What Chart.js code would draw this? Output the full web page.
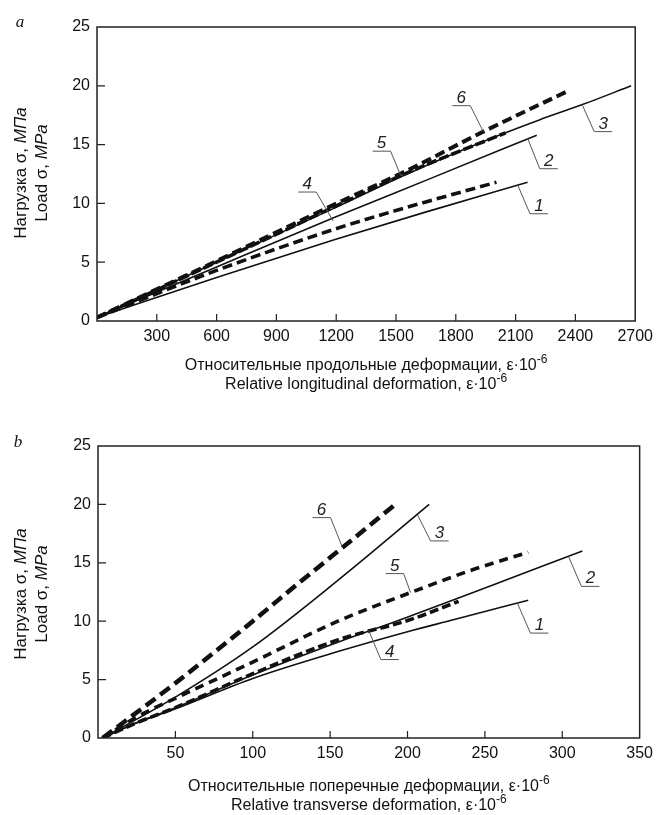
<!DOCTYPE html>
<html>
<head>
<meta charset="utf-8">
<script src="https://cdn.jsdelivr.net/npm/chart.js@4.4.1/dist/chart.umd.min.js"></script>
<style>
  html, body { margin: 0; padding: 0; background: #fff; }
  #wrap { position: relative; width: 659px; height: 815px; }
  canvas { position: absolute; left: 0; }
</style>
</head>
<body>
<div id="wrap">
  <canvas id="chartA" width="659" height="410" style="top:0"></canvas>
  <canvas id="chartB" width="659" height="405" style="top:410px"></canvas>
</div>
<script>
// --- a: longitudinal deformation ---
const aTicksX = [300, 600, 900, 1200, 1500, 1800, 2100, 2400, 2700];
const ticksY = [0, 5, 10, 15, 20, 25];

const aX1 = [0, 600, 1190, 1656, 2160];
const aY1 = [0.3, 3.7, 6.9, 9.3, 11.8];
const aX2 = [0, 600, 1190, 1656, 2206];
const aY2 = [0.3, 4.6, 8.8, 12.0, 15.8];
const aX3 = [0, 600, 1190, 1556, 1988, 2219, 2435, 2680];
const aY3 = [0.3, 5.0, 9.6, 12.5, 15.6, 17.1, 18.4, 20.0];
const aX4 = [0, 600, 1190, 1500, 2004];
const aY4 = [0.3, 4.3, 7.8, 9.4, 11.8];
const aX5 = [0, 600, 1190, 1556, 2050];
const aY5 = [0.3, 5.0, 9.7, 12.6, 16.0];
const aX6 = [0, 600, 1190, 1556, 1938, 2368];
const aY6 = [0.3, 5.1, 9.9, 12.8, 16.1, 19.6];

// --- b: transverse deformation ---
const bTicksX = [50, 100, 150, 200, 250, 300, 350];

const bX1 = [3, 25, 50, 100, 155, 200, 229, 278];
const bY1 = [0, 1.3, 2.5, 5.1, 7.4, 9.1, 10.1, 11.8];
const bX2 = [3, 25, 50, 100, 155, 195, 259, 313];
const bY2 = [0, 1.3, 2.6, 5.4, 8.2, 10.1, 13.3, 16.0];
const bX3 = [3, 50, 100, 155, 214];
const bY3 = [0, 3.5, 7.8, 13.5, 20.0];
const bX4 = [3, 25, 50, 100, 155, 201, 233];
const bY4 = [0, 1.3, 2.6, 5.5, 8.4, 10.1, 11.7];
const bX5 = [3, 25, 50, 100, 155, 201, 242, 278];
const bY5 = [0, 1.8, 3.4, 6.5, 10.0, 12.4, 14.4, 15.9];
const bX6 = [3, 50, 100, 130, 158, 193];
const bY6 = [0, 4.7, 10.0, 13.3, 16.3, 20.1];

// curve numbers with leader lines (anchor in data units, offset in px)
const aNotes = [
  { t: '6', x: 1938, y: 16.1, dx: -13, dy: -26, side: -1 },
  { t: '5', x: 1523, y: 12.4, dx: -10, dy: -24, side: -1 },
  { t: '3', x: 2434, y: 18.4, dx: 12, dy: 27, side: 1 },
  { t: '2', x: 2161, y: 15.5, dx: 12, dy: 30, side: 1 },
  { t: '1', x: 2112, y: 11.5, dx: 12, dy: 28, side: 1 },
  { t: '4', x: 1185, y: 8.5, dx: -17, dy: -29, side: -1 }
];
const bNotes = [
  { t: '6', x: 158, y: 16.3, dx: -12, dy: -30, side: -1 },
  { t: '3', x: 206.5, y: 19.1, dx: 13, dy: 26, side: 1 },
  { t: '5', x: 202, y: 12.45, dx: -7, dy: -19, side: -1 },
  { t: '2', x: 304, y: 15.55, dx: 13, dy: 30, side: 1 },
  { t: '1', x: 271, y: 11.55, dx: 13, dy: 30, side: 1 },
  { t: '4', x: 175, y: 9.2, dx: 12, dy: 29, side: 1 }
];

const SANS = '"Liberation Sans", Arial, sans-serif';

function pts(xs, ys) {
  return xs.map((x, i) => ({ x: x, y: ys[i] }));
}

function solid(xs, ys) {
  return { data: pts(xs, ys), borderColor: '#111', borderWidth: 1.6, borderDash: [] };
}
function dashed(xs, ys, w, dash) {
  return { data: pts(xs, ys), borderColor: '#111', borderWidth: w, borderDash: dash };
}

// draw a list of text runs on one line, centred at (x, y)
function drawRuns(ctx, runs, x, y) {
  let total = 0;
  runs.forEach(r => { ctx.font = r.font; r.w = ctx.measureText(r.t).width; total += r.w; });
  let cx = x - total / 2;
  ctx.textAlign = 'left';
  ctx.textBaseline = 'middle';
  runs.forEach(r => {
    ctx.font = r.font;
    ctx.fillText(r.t, cx, y - (r.sup ? 6 : 0));
    cx += r.w;
  });
}

const framePlugin = {
  id: 'frame',
  afterDraw(chart, args, opts) {
    const ctx = chart.ctx;
    const a = chart.chartArea;
    const xs = chart.scales.x, ys = chart.scales.y;
    ctx.save();
    ctx.strokeStyle = '#222';
    ctx.lineWidth = 1.5;
    ctx.strokeRect(a.left, a.top, a.right - a.left, a.bottom - a.top);
    ctx.lineWidth = 1.2;
    ctx.beginPath();
    opts.ticksX.forEach(v => {
      const px = xs.getPixelForValue(v);
      if (px > a.left + 2 && px < a.right - 2) { ctx.moveTo(px, a.bottom); ctx.lineTo(px, a.bottom - 7); }
    });
    opts.ticksY.forEach(v => {
      const py = ys.getPixelForValue(v);
      if (py > a.top + 2 && py < a.bottom - 2) { ctx.moveTo(a.left, py); ctx.lineTo(a.left + 8, py); }
    });
    ctx.stroke();
    ctx.restore();
  }
};

const notesPlugin = {
  id: 'notes',
  afterDraw(chart, args, opts) {
    const ctx = chart.ctx;
    const xs = chart.scales.x, ys = chart.scales.y;
    ctx.save();
    ctx.strokeStyle = '#555';
    ctx.fillStyle = '#222';
    ctx.lineWidth = 1;
    ctx.font = 'italic 17px ' + SANS;
    ctx.textAlign = 'center';
    ctx.textBaseline = 'alphabetic';
    opts.items.forEach(n => {
      const ax = xs.getPixelForValue(n.x), ay = ys.getPixelForValue(n.y);
      const sx = ax + n.dx, sy = ay + n.dy;
      const ex = sx + n.side * 18;
      ctx.beginPath();
      ctx.moveTo(ax, ay); ctx.lineTo(sx, sy); ctx.lineTo(ex, sy);
      ctx.stroke();
      ctx.fillText(n.t, (sx + ex) / 2, sy - 3);
    });
    ctx.restore();
  }
};

const titlesPlugin = {
  id: 'titles',
  afterDraw(chart, args, opts) {
    const ctx = chart.ctx;
    const mid = (chart.chartArea.left + chart.chartArea.right) / 2;
    ctx.save();
    ctx.fillStyle = '#111';
    // panel letter
    ctx.font = 'italic 17px "Liberation Serif", serif';
    ctx.textAlign = 'center';
    ctx.textBaseline = 'middle';
    ctx.fillText(opts.letter, opts.letterX, opts.letterY);
    // x axis titles
    const f = '16px ' + SANS, fs = '12px ' + SANS;
    drawRuns(ctx, [{ t: opts.xRu + ', ε·10', font: f }, { t: '-6', font: fs, sup: true }], mid, opts.xY1);
    drawRuns(ctx, [{ t: opts.xEn + ', ε·10', font: f }, { t: '-6', font: fs, sup: true }], mid, opts.xY2);
    // y axis titles
    const fy = '17px ' + SANS;
    ctx.translate(0, opts.yMid);
    ctx.rotate(-Math.PI / 2);
    drawRuns(ctx, [{ t: 'Нагрузка σ, ', font: fy }, { t: 'МПа', font: 'italic ' + fy }], 0, 21);
    drawRuns(ctx, [{ t: 'Load σ, ', font: fy }, { t: 'MPa', font: 'italic ' + fy }], 0, 42);
    ctx.restore();
  }
};

function makeChart(id, sets, xMax, xTicks, area, notes, titles) {
  return new Chart(document.getElementById(id), {
    type: 'line',
    data: {
      datasets: sets.map(s => Object.assign({
        pointRadius: 0,
        fill: false,
        cubicInterpolationMode: 'monotone',
        borderCapStyle: 'butt'
      }, s))
    },
    options: {
      responsive: false,
      animation: false,
      layout: { padding: { top: area.top, right: 659 - area.right, left: 0, bottom: 0 } },
      scales: {
        x: {
          type: 'linear',
          min: 0,
          max: xMax,
          afterBuildTicks: (s) => { s.ticks = xTicks.map(v => ({ value: v })); },
          afterFit: (s) => { s.height = area.height - area.bottom; },
          grid: { display: false, drawTicks: false },
          border: { display: false },
          ticks: {
            color: '#111', padding: 6, maxRotation: 0, autoSkip: false,
            font: { family: SANS, size: 16 },
            callback: (v) => String(v)
          }
        },
        y: {
          min: 0,
          max: 25,
          afterBuildTicks: (s) => { s.ticks = ticksY.map(v => ({ value: v })); },
          afterFit: (s) => { s.width = area.left; },
          grid: { display: false, drawTicks: false },
          border: { display: false },
          ticks: { color: '#111', padding: 7, font: { family: SANS, size: 16 }, callback: (v) => String(v) }
        }
      },
      plugins: {
        legend: { display: false },
        tooltip: { enabled: false },
        frame: { ticksX: xTicks, ticksY: ticksY },
        notes: { items: notes },
        titles: titles
      }
    },
    plugins: [framePlugin, notesPlugin, titlesPlugin]
  });
}

makeChart('chartA', [
  solid(aX1, aY1), solid(aX2, aY2), solid(aX3, aY3),
  dashed(aX4, aY4, 3.6, [10, 5]), dashed(aX5, aY5, 3.6, [10, 3]), dashed(aX6, aY6, 4, [10, 5])
], 2700, aTicksX, { left: 97, top: 27, right: 640, bottom: 321, height: 410 }, aNotes, {
  letter: 'a', letterX: 20, letterY: 23,
  xRu: 'Относительные продольные деформации', xEn: 'Relative longitudinal deformation',
  xY1: 366, xY2: 385, yMid: 173
});

makeChart('chartB', [
  solid(bX1, bY1), solid(bX2, bY2), solid(bX3, bY3),
  dashed(bX4, bY4, 3.6, [9, 4]), dashed(bX5, bY5, 3.6, [9, 6]), dashed(bX6, bY6, 4.5, [12, 6])
], 350, bTicksX, { left: 98, top: 36, right: 641, bottom: 328, height: 405 }, bNotes, {
  letter: 'b', letterX: 18, letterY: 33,
  xRu: 'Относительные поперечные деформации', xEn: 'Relative transverse deformation',
  xY1: 377, xY2: 396, yMid: 184
});
</script>
</body>
</html>
